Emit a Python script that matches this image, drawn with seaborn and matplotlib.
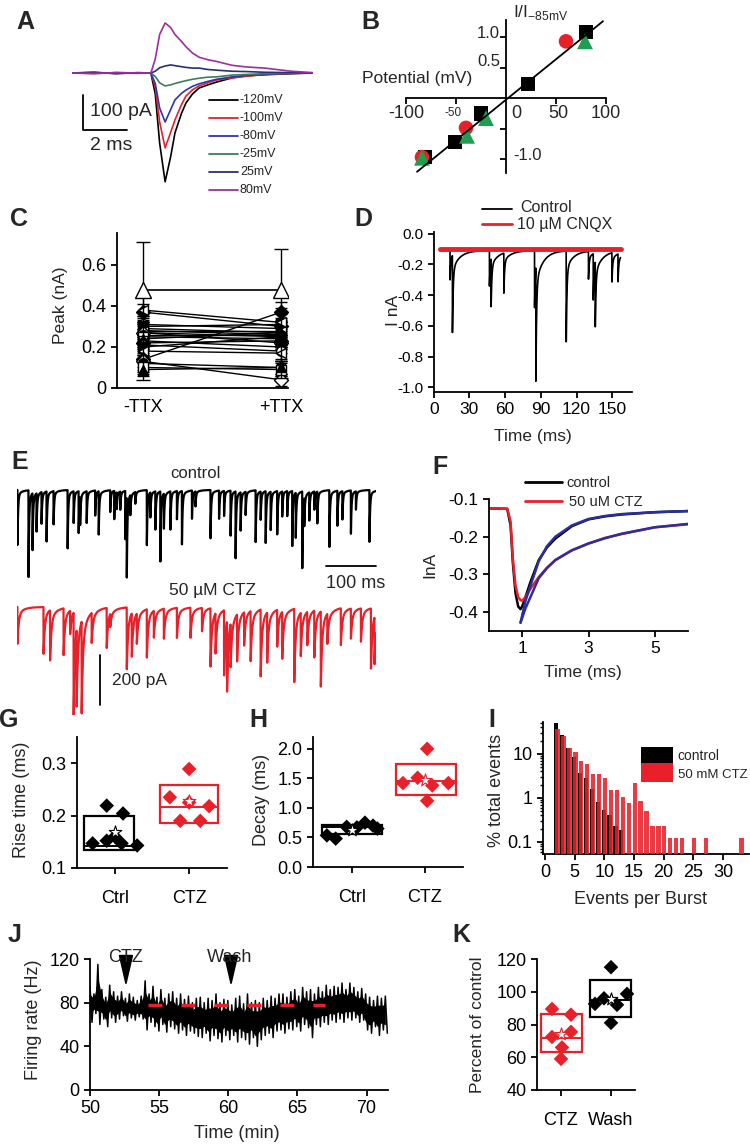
import numpy as np
import matplotlib
matplotlib.use('Agg')
import matplotlib.pyplot as plt
import seaborn as sns
from matplotlib.patches import Rectangle
from matplotlib.lines import Line2D

sns.set_style('ticks')
plt.rcParams['font.family'] = ['Liberation Sans', 'DejaVu Sans']
plt.rcParams['axes.unicode_minus'] = False
plt.rcParams['axes.linewidth'] = 1.3
plt.rcParams['axes.edgecolor'] = 'black'
plt.rcParams['xtick.color'] = 'black'
plt.rcParams['ytick.color'] = 'black'
plt.rcParams['patch.force_edgecolor'] = False

RED = '#e8202a'
GREEN = '#1e9e4e'
BLUE = '#2b2f9e'

# ---------------- data ----------------
# A: currents (pA) at several holding potentials
a_t = [0, 1, 2, 3, 3.6, 3.8, 4.0, 4.25, 4.5, 4.7, 5.0, 5.2, 5.5, 5.8, 6.2, 6.6, 7.3, 8.0, 8.8, 10.0, 11.0]
a_m120 = [0, 2, -2, 1, 0, -60, -200, -311, -240, -171, -115, -86, -60, -43, -34, -26, -14, -8, -5, -2, 0]
a_m100 = [0, -2, 1, 0, 0, -40, -140, -214, -170, -134, -90, -66, -48, -37, -28, -20, -14, -9, -4, -1, 0]
a_m80 = [0, 1, -1, 0, 0, -30, -100, -140, -105, -77, -58, -49, -38, -31, -24, -18, -11, -7, -4, -1, 0]
a_m25 = [0, -1, 1, 0, 0, -10, -28, -37, -34, -30, -25, -22, -18, -15, -12, -11, -6, -4, -2, -1, 0]
a_p25 = [0, 1, 0, -1, 0, 5, 15, 20, 23, 21, 18, 16, 14, 14, 10, 8, 5, 4, 2, 1, 0]
a_p80 = [0, -1, 1, 0, 0, 40, 110, 143, 130, 110, 90, 75, 57, 45, 38, 33, 22, 17, 14, 5, 1]
a_labels = ['-120mV', '-100mV', '-80mV', '-25mV', '25mV', '80mV']
a_colors = ['black', RED, '#2f35b0', '#3f7d5c', '#2c2f70', '#9a2fa0']

# B: normalised I-V
b_sq_x = [-81, -51, -25, 22, 80]
b_sq_y = [-0.97, -0.72, -0.25, 0.23, 1.08]
b_ci_x = [-84, -40, 60]
b_ci_y = [-0.97, -0.49, 0.93]
b_tr_x = [-84, -39, -20, 79]
b_tr_y = [-0.98, -0.62, -0.33, 0.93]
b_fit_x = [-89, 97]
b_fit_y = [-1.21, 1.26]

# C: peak amplitude, paired -TTX / +TTX
c_minus = [0.37, 0.31, 0.30, 0.29, 0.28, 0.28, 0.27, 0.27, 0.26, 0.25, 0.24,
           0.23, 0.22, 0.21, 0.20, 0.18, 0.14, 0.13, 0.12, 0.10, 0.09, 0.38]
c_plus = [0.30, 0.29, 0.31, 0.27, 0.26, 0.28, 0.25, 0.22, 0.26, 0.24, 0.27,
          0.20, 0.23, 0.18, 0.25, 0.17, 0.37, 0.04, 0.10, 0.09, 0.10, 0.32]
c_err = [0.04, 0.03, 0.05, 0.06, 0.03, 0.04, 0.05, 0.03, 0.06, 0.04, 0.05,
         0.03, 0.04, 0.05, 0.03, 0.04, 0.05, 0.03, 0.04, 0.03, 0.03, 0.07]
c_markers = ['D', 'o', 's', '^', 'v', '<', '>', 'D', 'o', 's', '^',
             'v', 'D', 'o', 's', '<', 'D', 'D', 'o', 's', '^', '<']
c_mean = [0.48, 0.48]
c_mean_lo = [0.04, 0.05]
c_mean_hi = [0.71, 0.68]

# D: control trace events (ms, nA) and CNQX trace
d_times = [13.7, 15.7, 46.8, 48.2, 58.9, 84.7, 85.8, 111.3, 130.0, 134.0, 135.7, 149.7, 154.8]
d_amps = [0.19, 0.50, 0.23, 0.31, 0.26, 0.37, 0.74, 0.59, 0.18, 0.30, 0.42, 0.19, 0.18]
d_base = -0.11
d_cnqx_t = [5, 157]
d_cnqx_i = [-0.1, -0.1]

# E: spontaneous events (ms, pA)
e_ctrl_t = [1, 23, 31, 39, 49, 59, 73, 101, 113, 123, 126, 139, 156, 163, 186, 194, 199, 206,
            216, 219, 226, 236, 259, 266, 276, 286, 293, 306, 319, 329, 349, 356, 386, 403,
            413, 426, 436, 446, 456, 476, 486, 496, 506, 519, 529, 539, 549, 556, 569, 573,
            583, 593, 599, 623, 639, 649, 666, 676, 703]
e_ctrl_a = [220, 347, 227, 153, 127, 200, 133, 233, 127, 167, 113, 127, 100, 173, 87, 113, 67, 73,
            193, 320, 80, 47, 220, 100, 153, 280, 140, 153, 113, 213, 113, 60, 193, 113,
            100, 180, 267, 153, 93, 207, 113, 207, 153, 173, 100, 100, 220, 180, 307, 113,
            113, 73, 127, 227, 140, 113, 173, 73, 207]
e_ctz_t = [1, 53, 66, 93, 106, 113, 119, 129, 149, 179, 186, 219, 229, 239, 259, 273, 293, 319,
           346, 369, 386, 396, 413, 419, 426, 439, 453, 466, 486, 499, 519, 529, 553, 566,
           579, 593, 606, 619, 646, 666, 686, 706, 713]
e_ctz_a = [147, 187, 200, 187, 93, 413, 307, 367, 120, 160, 53, 247, 173, 120, 193, 107, 120, 120,
           120, 93, 233, 160, 260, 280, 173, 187, 133, 200, 267, 200, 147, 187, 293, 173,
           133, 187, 300, 120, 147, 120, 133, 240, 187]

# F: averaged events (ms, nA) and exponential fits
f_t = [0, 0.55, 0.65, 0.72, 0.8, 0.88, 0.95, 1.0, 1.1, 1.25, 1.5, 1.75, 2.0, 2.5, 3.0, 3.5, 4.0, 5.0, 6.0]
f_ctrl = [-0.125, -0.126, -0.17, -0.27, -0.35, -0.385, -0.392, -0.385, -0.36, -0.32, -0.262,
          -0.228, -0.205, -0.172, -0.154, -0.146, -0.141, -0.135, -0.132]
f_ctz = [-0.125, -0.126, -0.16, -0.26, -0.33, -0.36, -0.368, -0.37, -0.36, -0.338, -0.307,
         -0.282, -0.262, -0.236, -0.218, -0.203, -0.193, -0.175, -0.167]
f_fit_t = [0.95, 1.1, 1.25, 1.5, 1.75, 2.0, 2.5, 3.0, 3.5, 4.0, 5.0, 6.0]
f_fit_ctrl = [-0.428, -0.37, -0.33, -0.265, -0.225, -0.200, -0.170, -0.153, -0.145, -0.140, -0.135, -0.132]
f_fit_ctz = [-0.428, -0.39, -0.36, -0.310, -0.283, -0.262, -0.236, -0.218, -0.204, -0.192, -0.175, -0.166]

# G: rise time (ms)
g_ctrl = [0.219, 0.204, 0.147, 0.152, 0.160, 0.147, 0.143]
g_ctrl_dx = [-0.11, 0.11, -0.30, -0.11, 0.0, 0.09, 0.30]
g_ctz = [0.289, 0.235, 0.218, 0.190, 0.190, 0.225]
g_ctz_dx = [0.0, -0.26, 0.27, -0.12, 0.15, 0.0]
g_box = [(0.135, 0.200, 0.142), (0.186, 0.258, 0.217)]
g_mean = [0.168, 0.227]

# H: decay (ms)
h_ctrl = [0.535, 0.48, 0.67, 0.75, 0.70, 0.65, 0.68]
h_ctrl_dx = [-0.34, -0.22, 0.07, 0.18, 0.29, 0.35, -0.07]
h_ctz = [2.0, 1.42, 1.51, 1.38, 1.42, 1.12]
h_ctz_dx = [0.03, -0.30, -0.10, 0.10, 0.32, 0.03]
h_box = [(0.56, 0.71, 0.67), (1.22, 1.75, 1.45)]
h_mean = [0.62, 1.48]

# I: events per burst histogram (% of events)
i_ctrl_x = [2, 3, 4, 5, 6, 7, 8, 9, 10, 11, 12, 13]
i_ctrl_y = [50, 27, 13.7, 8.5, 3.7, 2.8, 1.6, 0.8, 0.53, 0.39, 0.22, 0.18]
i_ctz_x = [2, 3, 4, 5, 6, 7, 8, 9, 10, 11, 12, 13, 14, 15, 16, 17, 18, 19, 20, 21, 22, 23, 25, 27, 33]
i_ctz_y = [37, 25, 13.7, 11, 6.9, 5.9, 3.5, 3.5, 2.8, 1.5, 1.5, 1.05, 0.77, 2.2, 0.85, 0.48,
           0.22, 0.22, 0.22, 0.11, 0.11, 0.11, 0.11, 0.11, 0.11]

# J: firing rate (Hz) over time, alternating local highs / lows
j_rate = [95, 62, 88, 70, 115, 60, 92, 65, 85, 58, 96, 66, 90, 62,
          86, 65, 90, 68, 84, 63, 88, 66, 85, 64, 82, 67, 86, 65,
          100, 55, 88, 62, 95, 58, 85, 54, 92, 60, 84, 53, 88, 58,
          90, 56, 84, 52, 88, 55, 83, 50, 86, 54, 80, 52, 84, 49,
          85, 48, 80, 52, 84, 45, 82, 50, 88, 47, 80, 44, 83, 50,
          82, 46, 78, 50, 84, 44, 86, 48, 79, 46, 88, 42, 80, 48,
          82, 40, 80, 46, 84, 50, 82, 52, 86, 48, 84, 54, 88, 55,
          88, 52, 85, 56, 90, 55, 92, 58, 86, 54, 94, 60, 90, 57,
          92, 48, 88, 60, 94, 58, 90, 62, 96, 60, 92, 64, 95, 62,
          94, 65, 98, 62, 92, 66, 98, 64, 94, 66, 90, 62, 93, 64,
          88, 55, 85, 52, 82, 58, 86, 50, 84, 55, 86, 52]
j_start, j_end = 50.0, 71.5
j_mean_t = [54.2, 67.0]
j_mean_y = [78, 78]
j_events = ['CTZ', 'Wash']
j_event_t = [52.6, 60.2]

# K: firing rate as percent of control
k_ctz = [89.5, 86, 72.4, 75.5, 66, 59]
k_ctz_dx = [-0.18, 0.2, -0.18, 0.2, 0.02, 0.0]
k_wash = [115, 92.6, 96, 92, 98.7, 81]
k_wash_dx = [0.0, -0.32, -0.14, 0.12, 0.32, 0.0]
k_box = [(63, 86.5, 72), (84.6, 107, 95)]
k_mean = [74.5, 95.5]

# ---------------- figure ----------------
W, H = 750, 1147
fig = plt.figure(figsize=(W / 100, H / 100), dpi=100)


def box(l, t, r, b):
    return fig.add_axes([l / W, 1 - b / H, (r - l) / W, (b - t) / H])


def ftxt(x, y, s, **kw):
    kw.setdefault('va', 'center')
    kw.setdefault('ha', 'center')
    fig.text(x / W, 1 - y / H, s, **kw)


def fline(xs, ys, **kw):
    fig.add_artist(Line2D([x / W for x in xs], [1 - y / H for y in ys],
                          transform=fig.transFigure, **kw))


def style(ax, size=12.5):
    for s in ['top', 'right']:
        ax.spines[s].set_visible(False)
    ax.tick_params(direction='out', length=4, width=1.3, labelsize=size, color='k')


def line(ax, x, y, **kw):
    sns.lineplot(x=np.asarray(x, float), y=np.asarray(y, float), ax=ax,
                 estimator=None, sort=False, legend=False, **kw)


def boxes(ax, stats, means, colors, left, right):
    for i, ((lo, hi, med), c) in enumerate(zip(stats, colors)):
        ax.add_patch(Rectangle((i + left[i], lo), right[i] - left[i], hi - lo,
                               fill=False, edgecolor=c, lw=1.6, zorder=2))
        ax.plot([i + left[i], i + right[i]], [med, med], color=c, lw=1.4, zorder=2)
        ax.scatter([i], [means[i]], marker='*', s=90, facecolor='white',
                   edgecolor=c, linewidth=0.8, zorder=5)


def diamonds(ax, pos, dx, vals, color):
    sns.scatterplot(x=pos + np.array(dx), y=vals, marker='D', s=55, color=color,
                    edgecolor='none', ax=ax, zorder=4, legend=False)


# panel letters
for lab, x, y in [('A', 25, 22), ('B', 370, 22), ('C', 19, 219), ('D', 363, 219),
                  ('E', 20, 462), ('F', 440, 467), ('G', 9, 720), ('H', 258, 720),
                  ('I', 492, 720), ('J', 15, 935), ('K', 461, 935)]:
    ftxt(x, y, lab, fontsize=18, fontweight='bold')

# ---- A ----
axA = box(72, 10, 313, 200)
axA.axis('off')
for vals, c in zip([a_m120, a_m100, a_m80, a_m25, a_p25, a_p80], a_colors):
    line(axA, a_t, vals, color=c, lw=1.2)
axA.set_xlim(0, 11)
axA.set_ylim(-363, 180)
fline([83, 83, 127], [95, 130, 130], color='k', lw=1.3)
ftxt(90, 111, '100 pA', fontsize=14, ha='left')
ftxt(90, 146, '2 ms', fontsize=14, ha='left')
for k, (lab, c) in enumerate(zip(a_labels, a_colors)):
    yy = 100 + k * 18
    fline([209, 238], [yy, yy], color=c, lw=1.3)
    ftxt(240, yy, lab, fontsize=9, ha='left')

# ---- B ----
axB = box(406, 20, 606, 173)
axB.set_xlim(-100, 100)
axB.set_ylim(-1.23, 1.28)
for s in ['top', 'right']:
    axB.spines[s].set_visible(False)
axB.spines['left'].set_position(('data', 0))
axB.spines['bottom'].set_position(('data', 0))
axB.set_xticks([-100, -50, 50, 100])
axB.set_yticks([-1.0, -0.5, 0.5, 1.0])
axB.tick_params(direction='out', length=4, width=1.3, labelleft=False, labelbottom=False)
sns.scatterplot(x=b_sq_x, y=b_sq_y, marker='s', s=110, color='black', edgecolor='none', ax=axB, zorder=3)
sns.scatterplot(x=b_ci_x, y=b_ci_y, marker='o', s=110, color=RED, edgecolor='none', ax=axB, zorder=3)
sns.scatterplot(x=b_tr_x, y=b_tr_y, marker='^', s=130, color=GREEN, edgecolor='none', ax=axB, zorder=3)
line(axB, b_fit_x, b_fit_y, color='black', lw=1.3, zorder=4)
ftxt(472, 78, 'Potential (mV)', fontsize=12.5, ha='right')
ftxt(513, 12, r'I/I$_{\mathregular{-85mV}}$', fontsize=12.5, ha='left')
for s, x, fs in [('-100', 406, 13), ('-50', 453, 8.5), ('0', 516, 13), ('50', 558, 13), ('100', 606, 13)]:
    ftxt(x, 113, s, fontsize=fs)
ftxt(500, 33, '1.0', fontsize=12, ha='right')
ftxt(500, 62, '0.5', fontsize=12, ha='right')
ftxt(513, 155, '-1.0', fontsize=12, ha='left')

# ---- C ----
axC = box(117, 233, 288, 388)
style(axC, 13)
for i in range(len(c_minus)):
    axC.plot([0, 1], [c_minus[i], c_plus[i]], color='k', lw=1.0, zorder=2)
    face = 'black' if i % 2 == 0 else 'white'
    for xx, yy in [(0, c_minus[i]), (1, c_plus[i])]:
        axC.errorbar([xx], [yy], yerr=[c_err[i]], fmt=c_markers[i], ms=7, mfc=face,
                     mec='black', ecolor='black', elinewidth=0.9, capsize=4, zorder=3)
axC.plot([0, 1], c_mean, color='k', lw=1.2, zorder=2)
for xx, m, lo, hi in zip([0, 1], c_mean, c_mean_lo, c_mean_hi):
    axC.errorbar([xx], [m], yerr=[[m - lo], [hi - m]], fmt='^', ms=11, mfc='white', mec='black',
                 ecolor='black', elinewidth=1.0, capsize=5, zorder=4)
axC.set_xlim(-0.19, 1.05)
axC.set_ylim(0, 0.756)
axC.set_yticks([0, 0.2, 0.4, 0.6])
axC.set_yticklabels(['0', '0.2', '0.4', '0.6'])
axC.set_xticks([0, 1])
axC.set_xticklabels(['-TTX', '+TTX'])
axC.tick_params(axis='x', length=0, pad=8)
ftxt(60, 305, 'Peak (nA)', fontsize=12.5, rotation=90)

# ---- D ----
axD = box(433.7, 231.7, 632, 392)
style(axD, 11)
d_t = np.arange(5, 157, 0.05)
d_i = np.full_like(d_t, d_base)
for ti, a in zip(d_times, d_amps):
    k0 = np.searchsorted(d_t, ti)
    dt = d_t[k0:] - d_t[k0]
    d_i[k0:] -= a * (0.8 * np.exp(-dt / 0.6) + 0.2 * np.exp(-dt / 6))
line(axD, d_t, d_i, color='black', lw=1.2)
line(axD, d_cnqx_t, d_cnqx_i, color=RED, lw=3.5)
axD.set_xlim(0, 166.6)
axD.set_ylim(-1.03, 0.013)
axD.set_yticks([0, -0.2, -0.4, -0.6, -0.8, -1.0])
axD.set_yticklabels(['0.0', '-0.2', '-0.4', '-0.6', '-0.8', '-1.0'])
axD.set_xticks([0, 30, 60, 90, 120, 150])
axD.tick_params(axis='x', labelsize=12.5)
fline([482, 512], [209, 209], color='black', lw=1.3)
fline([482, 512], [224, 224], color=RED, lw=2)
ftxt(520, 208, 'Control', fontsize=11.5, ha='left')
ftxt(517, 224, '10 µM CNQX', fontsize=11.5, ha='left')
ftxt(393, 310, 'I nA', fontsize=12.5, rotation=90)
ftxt(533, 436, 'Time (ms)', fontsize=12.5)

# ---- E ----
axE = box(17, 480, 376, 715)
axE.axis('off')
e_t = np.arange(0, 716, 0.2)
for times, amps, base, f1, t1, t2, c in [(e_ctrl_t, e_ctrl_a, 0, 0.9, 1.2, 8, 'black'),
                                          (e_ctz_t, e_ctz_a, -468, 0.8, 2.5, 12, RED)]:
    tr = np.full_like(e_t, base, dtype=float)
    for ti, a in zip(times, amps):
        k0 = np.searchsorted(e_t, ti)
        dt = e_t[k0:] - e_t[k0]
        tr[k0:] -= a * (f1 * np.exp(-dt / t1) + (1 - f1) * np.exp(-dt / t2))
    line(axE, e_t, tr, color=c, lw=1.6)
axE.set_xlim(0, 716)
axE.set_ylim(-900, 40)
fline([326, 376], [566, 566], color='k', lw=1.3)
ftxt(326, 584, '100 ms', fontsize=13, ha='left')
fline([100, 100], [655, 705], color='k', lw=1.3)
ftxt(112, 680, '200 pA', fontsize=12.5, ha='left')
ftxt(195, 473, 'control', fontsize=12)
ftxt(213, 590, '50 µM CTZ', fontsize=12.5)

# ---- F ----
axF = box(489, 499, 688, 631)
style(axF, 12.5)
line(axF, f_t, f_ctrl, color='black', lw=1.8)
line(axF, f_t, f_ctz, color=RED, lw=1.8)
line(axF, f_fit_t, f_fit_ctrl, color=BLUE, lw=1.8)
line(axF, f_fit_t, f_fit_ctz, color=BLUE, lw=1.8)
axF.set_xlim(0, 6)
axF.set_ylim(-0.45, -0.1)
axF.set_xticks([1, 3, 5])
axF.set_yticks([-0.1, -0.2, -0.3, -0.4])
axF.set_yticklabels(['-0.1', '-0.2', '-0.3', '-0.4'])
fline([525, 562], [482, 482], color='black', lw=2)
fline([525, 562], [501, 501], color=RED, lw=2)
ftxt(566, 483, 'control', fontsize=10.5, ha='left')
ftxt(569, 502, '50 uM CTZ', fontsize=10.5, ha='left')
ftxt(430, 565, 'InA', fontsize=12.5, rotation=90)
ftxt(583, 672, 'Time (ms)', fontsize=12.5)

# ---- G ----
axG = box(77, 737, 227, 868)
style(axG, 13)
boxes(axG, g_box, g_mean, ['black', RED], [-0.41, -0.39], [0.26, 0.39])
diamonds(axG, 0, g_ctrl_dx, g_ctrl, 'black')
diamonds(axG, 1, g_ctz_dx, g_ctz, RED)
axG.set_xlim(-0.51, 1.51)
axG.set_ylim(0.1, 0.35)
axG.set_yticks([0.1, 0.2, 0.3])
axG.set_xticks([0, 1])
axG.set_xticklabels(['Ctrl', 'CTZ'])
axG.tick_params(axis='x', pad=12)
ftxt(22, 800, 'Rise time (ms)', fontsize=13, rotation=90)

# ---- H ----
axH = box(313, 737, 463, 867)
style(axH, 13)
boxes(axH, h_box, h_mean, ['black', RED], [-0.41, -0.40], [0.41, 0.42])
diamonds(axH, 0, h_ctrl_dx, h_ctrl, 'black')
diamonds(axH, 1, h_ctz_dx, h_ctz, RED)
axH.set_xlim(-0.53, 1.52)
axH.set_ylim(0, 2.2)
axH.set_yticks([0, 0.5, 1.0, 1.5, 2.0])
axH.set_yticklabels(['0.0', '0.5', '1.0', '1.5', '2.0'])
axH.set_xticks([0, 1])
axH.set_xticklabels(['Ctrl', 'CTZ'])
axH.tick_params(axis='x', pad=12)
ftxt(262, 800, 'Decay (ms)', fontsize=13, rotation=90)

# ---- I ----
axI = box(543, 722, 749, 854)
style(axI, 13)
axI.bar(np.array(i_ctrl_x) - 0.12, i_ctrl_y, width=0.7, bottom=0.01, color='black',
        edgecolor='none', linewidth=0, zorder=2)
axI.bar(np.array(i_ctz_x) + 0.12, i_ctz_y, width=0.72, bottom=0.01, color=RED, alpha=0.88,
        edgecolor='none', linewidth=0, zorder=3)
axI.set_yscale('log')
axI.set_ylim(0.053, 53)
axI.set_xlim(-0.34, 34.4)
axI.set_xticks([0, 5, 10, 15, 20, 25, 30])
axI.set_yticks([0.1, 1, 10])
axI.set_yticklabels(['0.1', '1', '10'])
axI.tick_params(axis='y', which='minor', length=2.5, width=1.0, color='k')
fig.add_artist(Rectangle((641 / W, 1 - 763 / H), 32 / W, 16 / H, facecolor='black',
                         edgecolor='none', transform=fig.transFigure))
fig.add_artist(Rectangle((641 / W, 1 - 782 / H), 32 / W, 19 / H, facecolor=RED,
                         edgecolor='none', transform=fig.transFigure))
ftxt(677, 756, 'control', fontsize=10, ha='left')
ftxt(678, 775, '50 mM CTZ', fontsize=9.5, ha='left')
ftxt(497, 790, '% total events', fontsize=13, rotation=90)
ftxt(640, 900, 'Events per Burst', fontsize=13)

# ---- J ----
axJ = box(90, 959, 388, 1090)
style(axJ, 13)
j_t = np.linspace(j_start, j_end, len(j_rate))
j_hi = np.array(j_rate[0::2], float)
j_lo = np.array(j_rate[1::2], float)
j_mid = (j_hi + j_lo) / 2
j_half = (j_hi - j_lo) / 2
# dense core of the noisy trace, with the raw excursions drawn on top
axJ.fill_between(j_t[0::2], j_mid - 0.55 * j_half, j_mid + 0.55 * j_half,
                 color='black', lw=0, zorder=2)
line(axJ, j_t, j_rate, color='black', lw=1.1, zorder=2)
axJ.plot(j_mean_t, j_mean_y, color=RED, lw=2.5, linestyle=(0, (4, 5.5)), zorder=3)
for lab, tx in zip(j_events, j_event_t):
    axJ.annotate('', xy=(tx, 92), xytext=(tx, 117),
                 arrowprops=dict(arrowstyle='-|>,head_width=0.3,head_length=1.3',
                                 color='black', lw=1.3, mutation_scale=15),
                 annotation_clip=False, zorder=4)
ftxt(126, 957, 'CTZ', fontsize=13)
ftxt(230, 957, 'Wash', fontsize=13)
axJ.set_xlim(50, 71.55)
axJ.set_ylim(0, 120)
axJ.set_yticks([0, 40, 80, 120])
axJ.set_xticks([50, 55, 60, 65, 70])
ftxt(34, 1020, 'Firing rate (Hz)', fontsize=13, rotation=90)
ftxt(237, 1134, 'Time (min)', fontsize=13)

# ---- K ----
axK = box(537, 959, 635, 1090)
style(axK, 13)
boxes(axK, k_box, k_mean, [RED, 'black'], [-0.40, -0.42], [0.42, 0.40])
diamonds(axK, 0, k_ctz_dx, k_ctz, RED)
diamonds(axK, 1, k_wash_dx, k_wash, 'black')
axK.set_xlim(-0.48, 1.48)
axK.set_ylim(40, 120)
axK.set_yticks([40, 60, 80, 100, 120])
axK.set_xticks([0, 1])
axK.set_xticklabels(['CTZ', 'Wash'])
axK.tick_params(axis='x', pad=12)
ftxt(477, 1025, 'Percent of control', fontsize=12.5, rotation=90)

plt.savefig('out.png', dpi=100)
